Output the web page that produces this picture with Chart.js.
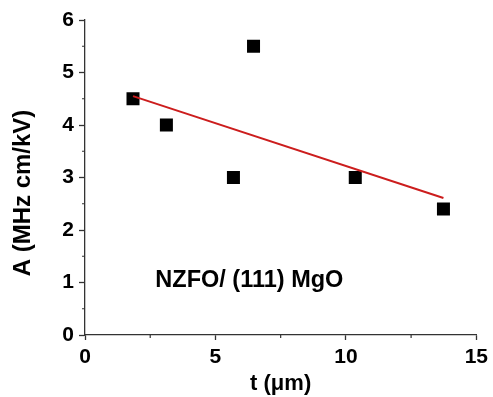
<!DOCTYPE html>
<html>
<head>
<meta charset="utf-8">
<script src="https://cdn.jsdelivr.net/npm/chart.js@4/dist/chart.umd.min.js"></script>
<style>
  body { margin: 0; background: #fff; }
  #wrap { width: 493px; height: 397px; }
</style>
</head>
<body>
<div id="wrap"><canvas id="fig"></canvas></div>
<script>
  // values
  const thickness = [1.84, 3.12, 5.69, 6.46, 10.36, 13.74];
  const coefA = [4.5, 4.0, 3.0, 5.5, 3.0, 2.4];
  const fitT = [1.84, 13.74];
  const fitA = [4.55, 2.61];
  const xMinor = [2.5, 7.5, 12.5];
  const yMinor = [0.5, 1.5, 2.5, 3.5, 4.5, 5.5];
  const sampleLabel = "NZFO/ (111) MgO";

  const axisColor = "#333";
  const font = "Liberation Sans, Arial, sans-serif";

  // y title, sample label and minor ticks
  const extras = {
    id: "extras",
    afterDraw(chart) {
      const c = chart.ctx, x = chart.scales.x, y = chart.scales.y;
      c.save();
      c.strokeStyle = axisColor;
      c.lineWidth = 1.2;
      c.beginPath();
      xMinor.forEach(v => {
        const px = x.getPixelForValue(v);
        c.moveTo(px, y.bottom); c.lineTo(px, y.bottom + 3);
      });
      yMinor.forEach(v => {
        const py = y.getPixelForValue(v);
        c.moveTo(x.left, py); c.lineTo(x.left - 3, py);
      });
      c.stroke();

      c.fillStyle = "#000";
      c.font = "bold 23.5px " + font;
      c.textAlign = "center";
      c.textBaseline = "middle";
      c.fillText(sampleLabel, x.getPixelForValue(6.3), y.getPixelForValue(1.03));

      c.translate(23, 193);
      c.rotate(-Math.PI / 2);
      c.font = "bold 24px " + font;
      c.fillText("A (MHz cm/kV)", 0, 0);
      c.restore();
    }
  };

  new Chart(document.getElementById("fig"), {
    type: "scatter",
    data: {
      datasets: [
        {
          type: "line",
          data: fitT.map((t, i) => ({ x: t, y: fitA[i] })),
          borderColor: "#cc1d1d",
          borderWidth: 2,
          pointRadius: 0,
          fill: false,
          order: 0
        },
        {
          data: thickness.map((t, i) => ({ x: t, y: coefA[i] })),
          pointStyle: "rect",
          pointRadius: 9.2,
          pointHoverRadius: 9.2,
          backgroundColor: "#000",
          borderColor: "#000",
          borderWidth: 0,
          order: 1
        }
      ]
    },
    options: {
      responsive: true,
      maintainAspectRatio: false,
      animation: false,
      layout: { padding: { left: 0, right: 15, top: 20, bottom: 0 } },
      plugins: {
        legend: { display: false },
        tooltip: { enabled: false }
      },
      scales: {
        x: {
          type: "linear",
          min: 0,
          max: 15,
          afterFit: s => { s.height = 62; },
          border: { color: axisColor, width: 1.3 },
          grid: { drawOnChartArea: false, drawTicks: true, tickLength: 5, color: axisColor, tickWidth: 1.3 },
          ticks: { stepSize: 5, padding: 5, color: "#000", font: { family: font, size: 21, weight: "bold" } },
          title: {
            display: true,
            text: "t (\u03bcm)",
            color: "#000",
            padding: { top: 1, bottom: 0 },
            font: { family: font, size: 22, weight: "bold" }
          }
        },
        y: {
          min: 0,
          max: 6,
          afterFit: s => { s.width = 85; },
          border: { color: axisColor, width: 1.3 },
          grid: { drawOnChartArea: false, drawTicks: true, tickLength: 6, color: axisColor, tickWidth: 1.3 },
          ticks: { stepSize: 1, padding: 5, color: "#000", font: { family: font, size: 21, weight: "bold" } }
        }
      }
    },
    plugins: [extras]
  });
</script>
</body>
</html>
